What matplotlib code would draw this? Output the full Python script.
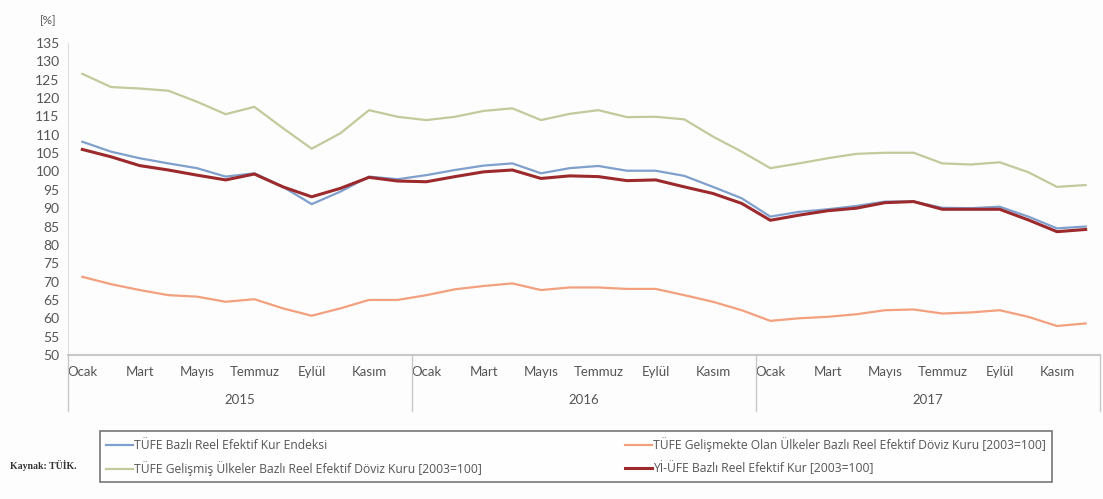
import numpy as np
import matplotlib.pyplot as plt
import matplotlib.transforms as mtransforms

plt.rcParams['font.family'] = ['Lato', 'DejaVu Sans']

months = ['Ocak', '', 'Mart', '', 'Mayıs', '', 'Temmuz', '', 'Eylül', '', 'Kasım', '']
years = ['2015', '2016', '2017']

tufe = [108.1, 105.4, 103.6, 102.2, 100.9, 98.6, 99.5, 95.8, 91.1, 94.5, 98.6, 97.9,
        99.0, 100.4, 101.6, 102.2, 99.5, 100.9, 101.5, 100.2, 100.2, 98.8, 95.8, 92.7,
        87.7, 89.0, 89.7, 90.6, 91.8, 91.8, 90.1, 90.0, 90.4, 87.7, 84.5, 85.0]
gelismekte = [71.3, 69.3, 67.7, 66.3, 65.9, 64.5, 65.2, 62.7, 60.7, 62.7, 65.0, 65.0,
              66.3, 67.9, 68.8, 69.5, 67.7, 68.4, 68.4, 68.0, 68.0, 66.3, 64.5, 62.2,
              59.3, 60.0, 60.4, 61.1, 62.2, 62.4, 61.3, 61.6, 62.2, 60.4, 57.9, 58.6]
gelismis = [126.6, 123.0, 122.6, 122.0, 119.0, 115.6, 117.6, 111.8, 106.2, 110.4, 116.7, 114.9,
            114.0, 114.9, 116.5, 117.2, 114.0, 115.7, 116.7, 114.8, 114.9, 114.2, 109.5, 105.4,
            100.9, 102.2, 103.6, 104.8, 105.1, 105.1, 102.2, 101.9, 102.5, 99.8, 95.8, 96.3]
yiufe = [106.0, 104.0, 101.6, 100.4, 99.0, 97.7, 99.3, 95.8, 93.1, 95.4, 98.4, 97.4,
         97.2, 98.6, 99.9, 100.4, 98.1, 98.8, 98.6, 97.5, 97.7, 95.8, 94.0, 91.3,
         86.7, 88.1, 89.3, 90.0, 91.5, 91.8, 89.7, 89.7, 89.7, 86.8, 83.6, 84.2]

labels = ['TÜFE Bazlı Reel Efektif Kur Endeksi',
          'TÜFE Gelişmekte Olan Ülkeler Bazlı Reel Efektif Döviz Kuru [2003=100]',
          'TÜFE Gelişmiş Ülkeler Bazlı Reel Efektif Döviz Kuru [2003=100]',
          'Yİ-ÜFE Bazlı Reel Efektif Kur [2003=100]']

fig = plt.figure(figsize=(11.03, 4.99), dpi=100, facecolor='#fdfdfd')
ax = fig.add_axes([68/1103, 1 - 355/499, (1100-68)/1103, (355-43)/499])
ax.set_facecolor('#fdfdfd')

x = np.arange(len(tufe))
l1, = ax.plot(x, tufe, color='#7f9fcc', lw=1.6)
l2, = ax.plot(x, gelismekte, color='#f2a07e', lw=1.6)
l3, = ax.plot(x, gelismis, color='#c4c99c', lw=1.6)
l4, = ax.plot(x, yiufe, color='#9c2a2c', lw=2.2)

ax.set_xlim(-0.5, 35.5)
ax.set_ylim(50, 135)
ax.set_yticks(np.arange(50, 136, 5))
ax.tick_params(axis='y', labelsize=10, colors='#555555', length=0, pad=6)
ax.set_xticks(x)
ax.set_xticklabels(months * 3)
ax.tick_params(axis='x', labelsize=9.5, colors='#555555', length=0, pad=8)

for s in ['top', 'right']:
    ax.spines[s].set_visible(False)
ax.spines['left'].set_color('#dddddd')
ax.spines['bottom'].set_color('#c8c8c8')
ax.spines['bottom'].set_linewidth(1.5)

# year groups under the month labels
trans = mtransforms.blended_transform_factory(ax.transData, ax.transAxes)
for b in [-0.5, 11.5, 23.5, 35.5]:
    ax.plot([b, b], [0, -0.18], color='#c8c8c8', lw=1, transform=trans, clip_on=False)
for i, yr in enumerate(years):
    ax.text(i * 12 + 5.5, -0.145, yr, transform=trans, ha='center', va='center',
            fontsize=9.5, color='#555555')

fig.text(48/1103, 1 - 21/499, '[%]', fontsize=8.5, color='#555555', ha='center', va='center')

leg = fig.legend([l1, l3, l2, l4], [labels[0], labels[2], labels[1], labels[3]],
                 ncol=2, loc='lower left', mode='expand', borderaxespad=0,
                 bbox_to_anchor=(100/1103, 17/499, 952/1103, 52/499),
                 prop={'family': 'Open Sans', 'size': 8.7}, frameon=True, fancybox=False,
                 handlelength=2.2, handletextpad=0.1, labelcolor='#555555',
                 borderpad=0.5, labelspacing=0.75)
leg.get_frame().set_edgecolor('#555555')
leg.get_frame().set_linewidth(1.2)

fig.text(10/1103, 1 - 465/499, 'Kaynak: TÜİK.', fontsize=7, fontweight='bold',
         family='Liberation Serif', color='#333333', va='center')

fig.savefig('out.png', dpi=100, facecolor=fig.get_facecolor())
